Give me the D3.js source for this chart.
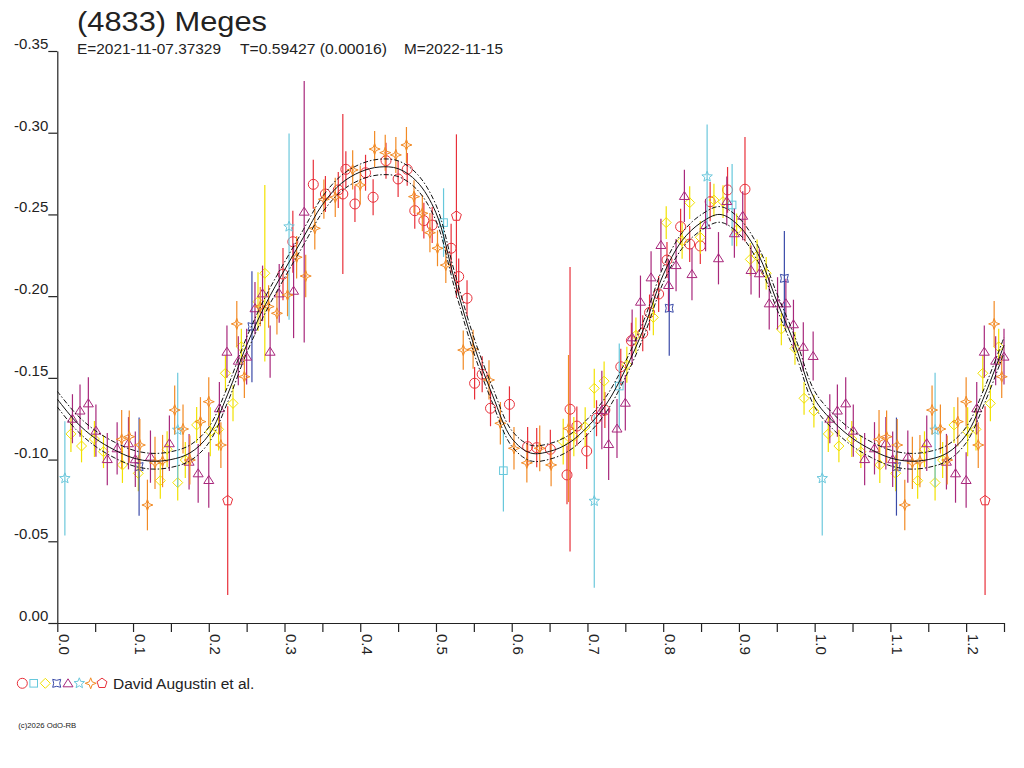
<!DOCTYPE html>
<html>
<head>
<meta charset="utf-8">
<script src="https://cdn.jsdelivr.net/npm/d3@7"></script>
<style>
  body { margin: 0; background: #fff; }
  text { font-family: "Liberation Sans", Arial, sans-serif; fill: #222; }
</style>
</head>
<body>
<svg id="chart" width="1024" height="768"></svg>
<script>
// ---- data: [phase, magnitude, error] ----
const redCircles = [
  [0.298, -0.2135, 0.016], [0.311, -0.2333, 0.019], [0.338, -0.2684, 0.015], [0.354, -0.2625, 0.011],
  [0.371, -0.265, 0.011], [0.377, -0.2625, 0.049], [0.381, -0.2776, 0.011], [0.393, -0.2564, 0.011],
  [0.407, -0.2755, 0.011], [0.417, -0.2605, 0.011], [0.434, -0.2829, 0.011], [0.450, -0.2717, 0.011],
  [0.462, -0.2776, 0.010], [0.472, -0.2523, 0.011], [0.484, -0.2462, 0.011], [0.495, -0.2435, 0.011],
  [0.520, -0.2293, 0.015], [0.530, -0.212, 0.011], [0.541, -0.1987, 0.011], [0.551, -0.1467, 0.010],
  [0.561, -0.1522, 0.011], [0.572, -0.1314, 0.011], [0.597, -0.1338, 0.011], [0.621, -0.1079, 0.012],
  [0.633, -0.1073, 0.012], [0.651, -0.1063, 0.012], [0.673, -0.0906, 0.018], [0.677, -0.1308, 0.087],
  [0.686, -0.1205, 0.012], [0.699, -0.1052, 0.011], [0.712, -0.1253, 0.011], [0.723, -0.1303, 0.011],
  [0.744, -0.1568, 0.011], [0.758, -0.1727, 0.011], [0.773, -0.1773, 0.011], [0.782, -0.190, 0.011],
  [0.794, -0.2013, 0.011], [0.805, -0.2221, 0.011], [0.823, -0.2425, 0.011], [0.835, -0.2319, 0.011],
  [0.849, -0.2307, 0.011], [0.862, -0.2578, 0.012], [0.885, -0.265, 0.014], [0.908, -0.2654, 0.032]
];
const cyanSquares = [
  [0.510, -0.245, 0.021], [0.589, -0.0932, 0.025], [0.742, -0.145, 0.026], [0.891, -0.2558, 0.025]
];
const yellowDiamonds = [
  [0.018, -0.1157, 0.011], [0.032, -0.1083, 0.010], [0.049, -0.1126, 0.011], [0.061, -0.1048, 0.010],
  [0.086, -0.0967, 0.011], [0.107, -0.0916, 0.011], [0.136, -0.0871, 0.011], [0.145, -0.1063, 0.011],
  [0.159, -0.0859, 0.011], [0.169, -0.0997, 0.011], [0.184, -0.1212, 0.011], [0.202, -0.117, 0.015],
  [0.213, -0.1185, 0.013], [0.222, -0.1528, 0.011], [0.232, -0.1344, 0.011], [0.243, -0.169, 0.011],
  [0.265, -0.1966, 0.018], [0.274, -0.214, 0.054], [0.668, -0.111, 0.014], [0.682, -0.114, 0.012],
  [0.697, -0.120, 0.012], [0.709, -0.1436, 0.012], [0.722, -0.148, 0.012], [0.752, -0.158, 0.011],
  [0.764, -0.176, 0.011], [0.787, -0.187, 0.011], [0.804, -0.245, 0.010], [0.825, -0.2339, 0.011],
  [0.835, -0.2572, 0.010], [0.849, -0.236, 0.010], [0.867, -0.2588, 0.010], [0.879, -0.2578, 0.010],
  [0.897, -0.2405, 0.010], [0.915, -0.2225, 0.010], [0.924, -0.2246, 0.010], [0.936, -0.214, 0.010],
  [0.956, -0.1799, 0.010], [0.974, -0.168, 0.010], [0.986, -0.1375, 0.010], [0.999, -0.1297, 0.010]
];
const blueCrosses = [
  [0.108, -0.0957, 0.030], [0.257, -0.1813, 0.034], [0.808, -0.1926, 0.029], [0.960, -0.2109, 0.029]
];
const purpleTriangles = [
  [0.020, -0.125, 0.015], [0.030, -0.130, 0.016], [0.041, -0.1344, 0.016], [0.051, -0.1177, 0.016],
  [0.066, -0.1003, 0.016], [0.079, -0.1069, 0.016], [0.094, -0.110, 0.016], [0.103, -0.1002, 0.017],
  [0.123, -0.1018, 0.016], [0.148, -0.110, 0.017], [0.174, -0.0987, 0.017], [0.186, -0.0916, 0.018],
  [0.200, -0.0875, 0.017], [0.214, -0.1314, 0.016], [0.224, -0.166, 0.016], [0.239, -0.1605, 0.015],
  [0.250, -0.163, 0.017], [0.261, -0.1926, 0.016], [0.271, -0.2017, 0.017], [0.281, -0.166, 0.016],
  [0.293, -0.2017, 0.018], [0.312, -0.2033, 0.029], [0.326, -0.2517, 0.080], [0.719, -0.1303, 0.024],
  [0.728, -0.1095, 0.022], [0.739, -0.119, 0.018], [0.750, -0.1348, 0.017], [0.759, -0.1748, 0.017],
  [0.770, -0.1966, 0.016], [0.784, -0.2115, 0.016], [0.797, -0.2313, 0.016], [0.807, -0.2068, 0.016],
  [0.817, -0.219, 0.016], [0.828, -0.2613, 0.016], [0.838, -0.2135, 0.016], [0.856, -0.2435, 0.016],
  [0.873, -0.2232, 0.016], [0.884, -0.2582, 0.015], [0.894, -0.2385, 0.015], [0.905, -0.2492, 0.015],
  [0.916, -0.216, 0.015], [0.927, -0.214, 0.015], [0.940, -0.1956, 0.016], [0.951, -0.1956, 0.016],
  [0.962, -0.1956, 0.015], [0.972, -0.1828, 0.015], [0.985, -0.169, 0.015], [0.998, -0.1634, 0.015]
];
const cyanStars = [
  [0.010, -0.0885, 0.035], [0.159, -0.1181, 0.035], [0.306, -0.2425, 0.057], [0.709, -0.0746, 0.053],
  [0.858, -0.2731, 0.032]
];
const orangeSparks = [
  [0.085, -0.1124, 0.018], [0.095, -0.114, 0.016], [0.109, -0.1089, 0.016], [0.119, -0.0722, 0.0155],
  [0.129, -0.098, 0.016], [0.139, -0.0991, 0.016], [0.155, -0.1303, 0.015], [0.166, -0.1187, 0.015],
  [0.175, -0.0997, 0.015], [0.189, -0.1232, 0.015], [0.200, -0.1354, 0.015], [0.216, -0.1089, 0.014],
  [0.237, -0.183, 0.014], [0.247, -0.1507, 0.013], [0.268, -0.1936, 0.012], [0.279, -0.1936, 0.013],
  [0.290, -0.1895, 0.013], [0.304, -0.2007, 0.013], [0.316, -0.2238, 0.013], [0.328, -0.2123, 0.013],
  [0.340, -0.2415, 0.013], [0.352, -0.2593, 0.012], [0.367, -0.2605, 0.012], [0.390, -0.2772, 0.012],
  [0.400, -0.268, 0.012], [0.419, -0.290, 0.011], [0.433, -0.2878, 0.011], [0.447, -0.2864, 0.011],
  [0.461, -0.2925, 0.011], [0.471, -0.2609, 0.010], [0.482, -0.2507, 0.011], [0.492, -0.2388, 0.012],
  [0.502, -0.2293, 0.011], [0.513, -0.219, 0.011], [0.536, -0.167, 0.012], [0.549, -0.1675, 0.012],
  [0.570, -0.1487, 0.012], [0.585, -0.1222, 0.013], [0.603, -0.1069, 0.013], [0.620, -0.098, 0.012],
  [0.637, -0.1069, 0.014], [0.652, -0.0967, 0.013], [0.675, -0.119, 0.045]
];
const redPentagons = [
  [0.225, -0.0749, 0.0577], [0.527, -0.249, 0.050]
];

// fitted light curve
const fitPhase = [0, 0.025, 0.05, 0.075, 0.1, 0.125, 0.15, 0.175, 0.2, 0.225, 0.25, 0.275, 0.3, 0.325,
  0.35, 0.375, 0.4, 0.425, 0.45, 0.475, 0.5, 0.525, 0.55, 0.575, 0.6, 0.625, 0.65, 0.675, 0.7, 0.725,
  0.75, 0.775, 0.8, 0.825, 0.85, 0.875, 0.9, 0.925, 0.95, 0.975, 1.0];
const fitMag = [-0.137, -0.123, -0.113, -0.106, -0.101, -0.099, -0.100, -0.104, -0.115, -0.140, -0.170,
  -0.195, -0.216, -0.236, -0.256, -0.269, -0.276, -0.279, -0.278, -0.270, -0.251, -0.209, -0.170,
  -0.139, -0.113, -0.104, -0.105, -0.110, -0.120, -0.134, -0.155, -0.181, -0.213, -0.234, -0.245,
  -0.250, -0.243, -0.226, -0.197, -0.169, -0.137];
const bandOffset = 0.0048;

const seriesData = [redCircles, cyanSquares, yellowDiamonds, blueCrosses, purpleTriangles, cyanStars, orangeSparks, redPentagons];
const seriesShape = ["circle", "square", "diamond", "xsquare", "triangle", "star", "spark", "pentagon"];
const seriesColor = ["#e8303a", "#66c8dc", "#f2e200", "#3a4aa8", "#a8287c", "#6cc8dc", "#f28a24", "#e8303a"];

const yTicks = [-0.35, -0.30, -0.25, -0.20, -0.15, -0.10, -0.05, 0.00];
const xMajor = [0, 0.1, 0.2, 0.3, 0.4, 0.5, 0.6, 0.7, 0.8, 0.9, 1.0, 1.1, 1.2];
const xMinor = [0.05, 0.15, 0.25, 0.35, 0.45, 0.55, 0.65, 0.75, 0.85, 0.95, 1.05, 1.15, 1.25];

const titleText = "(4833) Meges";
const subTexts = ["E=2021-11-07.37329", "T=0.59427 (0.00016)", "M=2022-11-15"];
const legendText = "David Augustin et al.";
const copyText = "(c)2026 OdO-RB";

// ---- drawing ----
const svg = d3.select("#chart");
const x = d3.scaleLinear().domain([0, 1.25]).range([57.3, 1004]);
const y = d3.scaleLinear().domain([-0.35, 0]).range([51, 623]);

function polyPath(n, rOut, rIn, rot) {
  const pts = [];
  const k = rIn ? n * 2 : n;
  for (let i = 0; i < k; i++) {
    const r = rIn && i % 2 ? rIn : rOut;
    const a = rot + i * 2 * Math.PI / k;
    pts.push([r * Math.sin(a), -r * Math.cos(a)]);
  }
  return "M" + pts.map(p => p[0].toFixed(2) + "," + p[1].toFixed(2)).join("L") + "Z";
}

function drawMarker(g, shape, color) {
  let el;
  if (shape === "circle") el = g.append("circle").attr("r", 5);
  else if (shape === "square") el = g.append("rect").attr("x", -3.8).attr("y", -3.8).attr("width", 7.6).attr("height", 7.6);
  else if (shape === "diamond") el = g.append("path").attr("d", "M0,-5L5,0L0,5L-5,0Z");
  else if (shape === "xsquare") el = g.append("path").attr("d", "M-4,-4Q0,-2 4,-4Q2,0 4,4Q0,2 -4,4Q-2,0 -4,-4Z");
  else if (shape === "triangle") el = g.append("path").attr("d", "M0,-4.5L5,3.5L-5,3.5Z");
  else if (shape === "star") el = g.append("path").attr("d", polyPath(5, 5.5, 2.4, 0));
  else if (shape === "spark") el = g.append("path").attr("d", polyPath(4, 5.5, 2.1, 0));
  else if (shape === "pentagon") el = g.append("path").attr("d", polyPath(5, 5.2, 0, 0));
  el.attr("fill", "none").attr("stroke", color).attr("stroke-width", 1);
  return el;
}

// axes
const yAxis = d3.axisLeft(y).tickValues(yTicks).tickSize(9).tickSizeOuter(0)
  .tickFormat(d => d.toFixed(2).replace("-0.00", "0.00"));
const yG = svg.append("g").attr("transform", "translate(57.3,0)").call(yAxis);
yG.selectAll("text").attr("x", -9).attr("y", -2.5).attr("dy", 0)
  .style("font-size", "15px").style("font-family", "'Liberation Sans', Arial, sans-serif").attr("fill", "#222");

const xAxis = d3.axisBottom(x).tickValues(xMajor).tickSize(9).tickSizeOuter(0)
  .tickFormat(d => d.toFixed(1));
const xG = svg.append("g").attr("transform", "translate(0,623)").call(xAxis);
xG.selectAll("text").attr("transform", "rotate(90)").attr("x", 11).attr("y", -1).attr("dy", 0)
  .attr("text-anchor", "start")
  .style("font-size", "15px").style("font-family", "'Liberation Sans', Arial, sans-serif").attr("fill", "#222");
const xMinorAxis = d3.axisBottom(x).tickValues(xMinor).tickSize(9).tickSizeOuter(0).tickFormat("");
svg.append("g").attr("transform", "translate(0,623)").call(xMinorAxis).select(".domain").remove();

svg.selectAll(".domain, .tick line").attr("stroke", "#222").attr("stroke-width", 1.2);

// points (phases below 0.25 are repeated at phase + 1)
const plot = svg.append("g");
seriesData.forEach((pts, si) => {
  const all = pts.concat(pts.filter(p => p[0] + 1 <= 1.25).map(p => [p[0] + 1, p[1], p[2]]));
  all.forEach(p => {
    const px = x(p[0]);
    plot.append("line")
      .attr("x1", px).attr("x2", px)
      .attr("y1", y(p[1] - p[2])).attr("y2", y(p[1] + p[2]))
      .attr("stroke", seriesColor[si]).attr("stroke-width", 1.2);
    const g = plot.append("g").attr("transform", `translate(${px},${y(p[1])})`);
    drawMarker(g, seriesShape[si], seriesColor[si]);
    if (seriesShape[si] === "spark") g.append("circle").attr("r", 1).attr("fill", seriesColor[si]);
  });
});

// fitted curve + band
const fit = fitPhase.map((p, i) => [p, fitMag[i]]);
const fitAll = fit.concat(fit.filter(d => d[0] > 0 && d[0] <= 0.25).map(d => [d[0] + 1, d[1]]));
const line = d3.line().x(d => x(d[0])).y(d => y(d[1])).curve(d3.curveCatmullRom.alpha(0.5));
svg.append("path").attr("d", line(fitAll)).attr("fill", "none").attr("stroke", "#111").attr("stroke-width", 1);
[-bandOffset, bandOffset].forEach(off => {
  svg.append("path").attr("d", line(fitAll.map(d => [d[0], d[1] + off])))
    .attr("fill", "none").attr("stroke", "#111").attr("stroke-width", 1)
    .attr("stroke-dasharray", "5,2,1.5,2");
});

// titles
svg.append("text").attr("x", 77).attr("y", 31).attr("font-size", 27)
  .attr("textLength", 190).attr("lengthAdjust", "spacingAndGlyphs").text(titleText);
const subX = [77, 240, 404];
const subW = [144, 147, 99];
subTexts.forEach((t, i) => {
  svg.append("text").attr("x", subX[i]).attr("y", 54).attr("font-size", 15)
    .attr("textLength", subW[i]).attr("lengthAdjust", "spacingAndGlyphs").text(t);
});

// legend
const legX = [22.3, 33.7, 45.3, 56.7, 68, 79.3, 90.7, 102];
seriesShape.forEach((s, i) => {
  const g = svg.append("g").attr("transform", `translate(${legX[i]},683.3)`);
  drawMarker(g, s, seriesColor[i]);
});
svg.append("text").attr("x", 113).attr("y", 688.5).attr("font-size", 15.5).text(legendText);

svg.append("text").attr("x", 18.3).attr("y", 727.5).attr("font-size", 6.5)
  .attr("textLength", 58).attr("lengthAdjust", "spacingAndGlyphs").text(copyText);
</script>
</body>
</html>
